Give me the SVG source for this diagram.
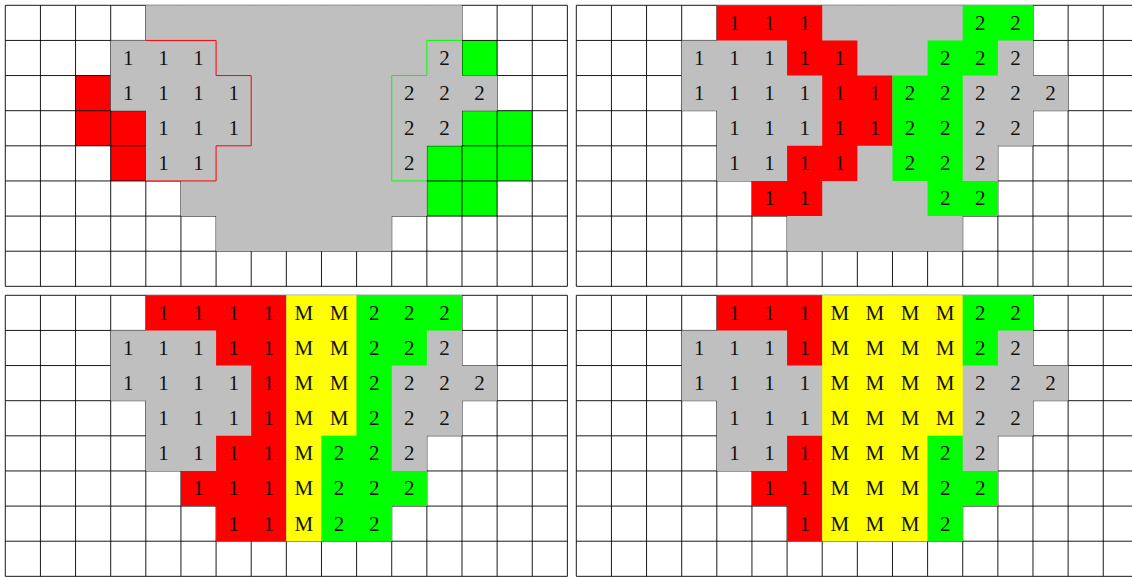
<svg xmlns="http://www.w3.org/2000/svg" xmlns:xlink="http://www.w3.org/1999/xlink" width="1132" height="577" viewBox="0 0 1132 577">
<style>
.grid{fill:none;stroke:#000;stroke-width:0.9}
.g{fill:#bfbfbf}
.r{fill:#ff0000}
.gr{fill:#00ff00}
.y{fill:#ffff00}
.ro{fill:none;stroke:#ff0000;stroke-width:1}
.go{fill:none;stroke:#00ff00;stroke-width:1}
text{font-family:"Liberation Serif","DejaVu Serif",serif;font-size:21px;text-anchor:middle;fill:#111}
</style>
<defs>
<path id="gridpath" class="grid" d="M0 0V281.04M35.13 0V281.04M70.26 0V281.04M105.39 0V281.04M140.52 0V281.04M175.65 0V281.04M210.78 0V281.04M245.91 0V281.04M281.04 0V281.04M316.17 0V281.04M351.3 0V281.04M386.43 0V281.04M421.56 0V281.04M456.69 0V281.04M491.82 0V281.04M526.95 0V281.04M562.08 0V281.04M0 0H562.08M0 35.13H562.08M0 70.26H562.08M0 105.39H562.08M0 140.52H562.08M0 175.65H562.08M0 210.78H562.08M0 245.91H562.08M0 281.04H562.08"/>
<path id="grayregion" class="g" d="M140.52 0H456.69V70.26H491.82V105.39H456.69V140.52H421.56V210.78H386.43V245.91H210.78V210.78H175.65V175.65H140.52V105.39H105.39V35.13H140.52Z"/>
</defs>
<rect width="1132" height="577" fill="#fff"/>

<g id="panel1" transform="translate(5.3,5.3)">
<rect class="r" x="70.26" y="70.26" width="35.13" height="70.26"/>
<rect class="r" x="105.39" y="105.39" width="35.13" height="70.26"/>
<rect class="gr" x="456.69" y="35.13" width="35.13" height="35.13"/>
<rect class="gr" x="456.69" y="105.39" width="70.26" height="35.13"/>
<rect class="gr" x="421.56" y="140.52" width="105.39" height="35.13"/>
<rect class="gr" x="421.56" y="175.65" width="70.26" height="35.13"/>
<use xlink:href="#gridpath"/>
<use xlink:href="#grayregion"/>
<path class="ro" d="M140.52 35.13H210.78V70.26H245.91V140.52H210.78V175.65H140.52"/>
<path class="go" d="M456.69 35.13H421.56V70.26H386.43V175.65H421.56"/>
<text x="122.96" y="59.63">1</text><text x="158.09" y="59.63">1</text><text x="193.22" y="59.63">1</text><text x="439.13" y="59.63">2</text>
<text x="122.96" y="94.76">1</text><text x="158.09" y="94.76">1</text><text x="193.22" y="94.76">1</text><text x="228.35" y="94.76">1</text><text x="404" y="94.76">2</text><text x="439.13" y="94.76">2</text><text x="474.26" y="94.76">2</text>
<text x="158.09" y="129.89">1</text><text x="193.22" y="129.89">1</text><text x="228.35" y="129.89">1</text><text x="404" y="129.89">2</text><text x="439.13" y="129.89">2</text>
<text x="158.09" y="165.02">1</text><text x="193.22" y="165.02">1</text><text x="404" y="165.02">2</text>
</g>

<g id="panel2" transform="translate(576.3,5.3)">
<use xlink:href="#gridpath"/>
<use xlink:href="#grayregion"/>
<path class="r" d="M140.52 0H245.91V35.13H281.04V70.26H316.17V140.52H281.04V175.65H245.91V210.78H175.65V175.65H210.78V140.52H245.91V70.26H210.78V35.13H140.52Z"/>
<path class="gr" d="M386.43 0H456.69V35.13H421.56V70.26H386.43V175.65H421.56V210.78H351.3V175.65H316.17V70.26H351.3V35.13H386.43Z"/>
<text x="158.09" y="24.5">1</text><text x="193.22" y="24.5">1</text><text x="228.35" y="24.5">1</text><text x="404" y="24.5">2</text><text x="439.13" y="24.5">2</text>
<text x="122.96" y="59.63">1</text><text x="158.09" y="59.63">1</text><text x="193.22" y="59.63">1</text><text x="228.35" y="59.63">1</text><text x="263.48" y="59.63">1</text><text x="368.87" y="59.63">2</text><text x="404" y="59.63">2</text><text x="439.13" y="59.63">2</text>
<text x="122.96" y="94.76">1</text><text x="158.09" y="94.76">1</text><text x="193.22" y="94.76">1</text><text x="228.35" y="94.76">1</text><text x="263.48" y="94.76">1</text><text x="298.61" y="94.76">1</text><text x="333.74" y="94.76">2</text><text x="368.87" y="94.76">2</text><text x="404" y="94.76">2</text><text x="439.13" y="94.76">2</text><text x="474.26" y="94.76">2</text>
<text x="158.09" y="129.89">1</text><text x="193.22" y="129.89">1</text><text x="228.35" y="129.89">1</text><text x="263.48" y="129.89">1</text><text x="298.61" y="129.89">1</text><text x="333.74" y="129.89">2</text><text x="368.87" y="129.89">2</text><text x="404" y="129.89">2</text><text x="439.13" y="129.89">2</text>
<text x="158.09" y="165.02">1</text><text x="193.22" y="165.02">1</text><text x="228.35" y="165.02">1</text><text x="263.48" y="165.02">1</text><text x="333.74" y="165.02">2</text><text x="368.87" y="165.02">2</text><text x="404" y="165.02">2</text>
<text x="193.22" y="200.15">1</text><text x="228.35" y="200.15">1</text><text x="368.87" y="200.15">2</text><text x="404" y="200.15">2</text>
</g>

<g id="panel3" transform="translate(5.3,295.3)">
<use xlink:href="#gridpath"/>
<use xlink:href="#grayregion"/>
<path class="r" d="M140.52 0H281.04V245.91H210.78V210.78H175.65V175.65H210.78V140.52H245.91V70.26H210.78V35.13H140.52Z"/>
<path class="y" d="M281.04 0H351.3V140.52H316.17V245.91H281.04Z"/>
<path class="gr" d="M351.3 0H456.69V35.13H421.56V70.26H386.43V175.65H421.56V210.78H386.43V245.91H316.17V140.52H351.3Z"/>
<text x="158.09" y="24.5">1</text><text x="193.22" y="24.5">1</text><text x="228.35" y="24.5">1</text><text x="263.48" y="24.5">1</text><text x="298.61" y="24.5">M</text><text x="333.74" y="24.5">M</text><text x="368.87" y="24.5">2</text><text x="404" y="24.5">2</text><text x="439.13" y="24.5">2</text>
<text x="122.96" y="59.63">1</text><text x="158.09" y="59.63">1</text><text x="193.22" y="59.63">1</text><text x="228.35" y="59.63">1</text><text x="263.48" y="59.63">1</text><text x="298.61" y="59.63">M</text><text x="333.74" y="59.63">M</text><text x="368.87" y="59.63">2</text><text x="404" y="59.63">2</text><text x="439.13" y="59.63">2</text>
<text x="122.96" y="94.76">1</text><text x="158.09" y="94.76">1</text><text x="193.22" y="94.76">1</text><text x="228.35" y="94.76">1</text><text x="263.48" y="94.76">1</text><text x="298.61" y="94.76">M</text><text x="333.74" y="94.76">M</text><text x="368.87" y="94.76">2</text><text x="404" y="94.76">2</text><text x="439.13" y="94.76">2</text><text x="474.26" y="94.76">2</text>
<text x="158.09" y="129.89">1</text><text x="193.22" y="129.89">1</text><text x="228.35" y="129.89">1</text><text x="263.48" y="129.89">1</text><text x="298.61" y="129.89">M</text><text x="333.74" y="129.89">M</text><text x="368.87" y="129.89">2</text><text x="404" y="129.89">2</text><text x="439.13" y="129.89">2</text>
<text x="158.09" y="165.02">1</text><text x="193.22" y="165.02">1</text><text x="228.35" y="165.02">1</text><text x="263.48" y="165.02">1</text><text x="298.61" y="165.02">M</text><text x="333.74" y="165.02">2</text><text x="368.87" y="165.02">2</text><text x="404" y="165.02">2</text>
<text x="193.22" y="200.15">1</text><text x="228.35" y="200.15">1</text><text x="263.48" y="200.15">1</text><text x="298.61" y="200.15">M</text><text x="333.74" y="200.15">2</text><text x="368.87" y="200.15">2</text><text x="404" y="200.15">2</text>
<text x="228.35" y="235.28">1</text><text x="263.48" y="235.28">1</text><text x="298.61" y="235.28">M</text><text x="333.74" y="235.28">2</text><text x="368.87" y="235.28">2</text>
</g>

<g id="panel4" transform="translate(576.3,295.3)">
<use xlink:href="#gridpath"/>
<use xlink:href="#grayregion"/>
<path class="r" d="M140.52 0H245.91V70.26H210.78V35.13H140.52Z"/>
<path class="r" d="M210.78 140.52H245.91V245.91H210.78V210.78H175.65V175.65H210.78Z"/>
<path class="y" d="M245.91 0H386.43V140.52H351.3V245.91H245.91Z"/>
<path class="gr" d="M386.43 0H456.69V35.13H421.56V70.26H386.43Z"/>
<path class="gr" d="M351.3 140.52H386.43V175.65H421.56V210.78H386.43V245.91H351.3Z"/>
<text x="158.09" y="24.5">1</text><text x="193.22" y="24.5">1</text><text x="228.35" y="24.5">1</text><text x="263.48" y="24.5">M</text><text x="298.61" y="24.5">M</text><text x="333.74" y="24.5">M</text><text x="368.87" y="24.5">M</text><text x="404" y="24.5">2</text><text x="439.13" y="24.5">2</text>
<text x="122.96" y="59.63">1</text><text x="158.09" y="59.63">1</text><text x="193.22" y="59.63">1</text><text x="228.35" y="59.63">1</text><text x="263.48" y="59.63">M</text><text x="298.61" y="59.63">M</text><text x="333.74" y="59.63">M</text><text x="368.87" y="59.63">M</text><text x="404" y="59.63">2</text><text x="439.13" y="59.63">2</text>
<text x="122.96" y="94.76">1</text><text x="158.09" y="94.76">1</text><text x="193.22" y="94.76">1</text><text x="228.35" y="94.76">1</text><text x="263.48" y="94.76">M</text><text x="298.61" y="94.76">M</text><text x="333.74" y="94.76">M</text><text x="368.87" y="94.76">M</text><text x="404" y="94.76">2</text><text x="439.13" y="94.76">2</text><text x="474.26" y="94.76">2</text>
<text x="158.09" y="129.89">1</text><text x="193.22" y="129.89">1</text><text x="228.35" y="129.89">1</text><text x="263.48" y="129.89">M</text><text x="298.61" y="129.89">M</text><text x="333.74" y="129.89">M</text><text x="368.87" y="129.89">M</text><text x="404" y="129.89">2</text><text x="439.13" y="129.89">2</text>
<text x="158.09" y="165.02">1</text><text x="193.22" y="165.02">1</text><text x="228.35" y="165.02">1</text><text x="263.48" y="165.02">M</text><text x="298.61" y="165.02">M</text><text x="333.74" y="165.02">M</text><text x="368.87" y="165.02">2</text><text x="404" y="165.02">2</text>
<text x="193.22" y="200.15">1</text><text x="228.35" y="200.15">1</text><text x="263.48" y="200.15">M</text><text x="298.61" y="200.15">M</text><text x="333.74" y="200.15">M</text><text x="368.87" y="200.15">2</text><text x="404" y="200.15">2</text>
<text x="228.35" y="235.28">1</text><text x="263.48" y="235.28">M</text><text x="298.61" y="235.28">M</text><text x="333.74" y="235.28">M</text><text x="368.87" y="235.28">2</text>
</g>
</svg>
